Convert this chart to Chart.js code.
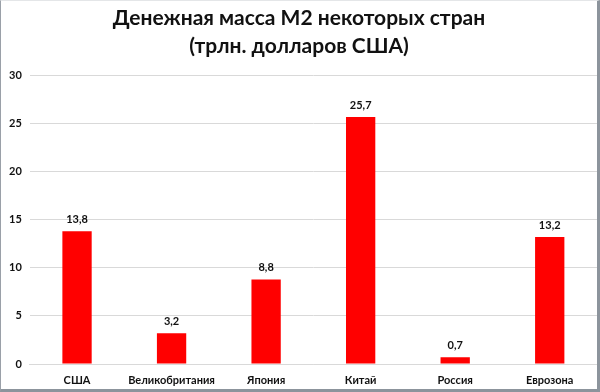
<!DOCTYPE html>
<html>
<head>
<meta charset="utf-8">
<script src="https://cdn.jsdelivr.net/npm/chart.js@4"></script>
<style>
  html, body { margin: 0; padding: 0; background: #fff; }
  #frame {
    position: absolute; left: 0; top: 0;
    border-left: 1px solid #9aa0a8;
    border-top: 1px solid #e4e6e8;
    border-right: 3px solid #8c949c;
    border-bottom: 3px solid #8c949c;
    box-sizing: border-box;
    width: 600px; height: 392px;
    background: #fff;
  }
  #wrap { position: absolute; left: 0; top: 0; width: 596px; height: 388px; }
</style>
</head>
<body>
<div id="frame"><div id="wrap"><canvas id="chart-m2"></canvas></div></div>
<script>
// data
const countries = ['США', 'Великобритания', 'Япония', 'Китай', 'Россия', 'Еврозона'];
const m2Values = [13.8, 3.2, 8.8, 25.7, 0.7, 13.2];
const titleLines = ['Денежная масса М2 некоторых стран', '(трлн. долларов США)'];

const FONT = "Lato, 'Liberation Sans', sans-serif";

// value labels above bars, comma decimal
const barLabels = {
    id: 'barLabels',
    afterDatasetsDraw(chart) {
        const ctx = chart.ctx;
        const meta = chart.getDatasetMeta(0);
        ctx.save();
        ctx.font = "bold 11px " + FONT;
        ctx.fillStyle = '#111';
        ctx.textAlign = 'center';
        ctx.textBaseline = 'bottom';
        meta.data.forEach((bar, i) => {
            const txt = m2Values[i].toFixed(1).replace('.', ',');
            ctx.fillText(txt, bar.x, bar.y - 6);
        });
        ctx.restore();
    }
};

const config_m2 = {
    type: 'bar',
    data: {
        labels: countries,
        datasets: [{
            data: m2Values,
            backgroundColor: '#ff0000',
            barPercentage: 0.62,
            categoryPercentage: 0.5,
        }]
    },
    options: {
        responsive: true,
        maintainAspectRatio: false,
        animation: false,
        layout: { padding: { top: 4, right: 0, left: 0, bottom: 0 } },
        scales: {
            x: {
                grid: { display: false },
                border: { color: '#d9d9d9' },
                ticks: { color: '#111', maxRotation: 0, autoSkip: false, font: { family: FONT, size: 11, weight: 'bold', lineHeight: 1 }, padding: 3 }
            },
            y: {
                min: 0, max: 30,
                ticks: { stepSize: 5, color: '#111', font: { family: FONT, size: 11, weight: 'bold' }, padding: 8 },
                grid: { color: '#d9d9d9', drawTicks: false },
                border: { display: false }
            }
        },
        plugins: {
            legend: { display: false },
            tooltip: { enabled: false },
            title: {
                display: true,
                text: titleLines,
                color: '#111',
                font: { family: FONT, size: 21, weight: 'bold', lineHeight: 1.3 },
                padding: { top: 0, bottom: 16 }
            }
        }
    },
    plugins: [barLabels]
};

new Chart(document.getElementById('chart-m2'), config_m2);
</script>
</body>
</html>
